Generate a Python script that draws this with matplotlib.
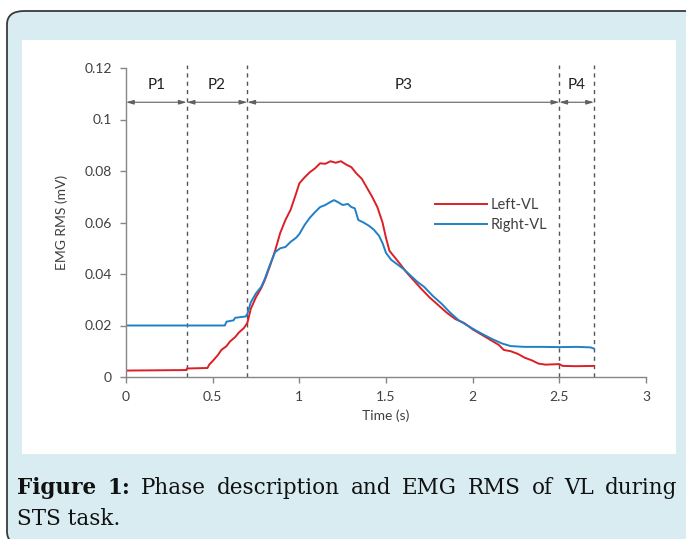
import matplotlib.pyplot as plt
from matplotlib.patches import FancyBboxPatch, Rectangle

# EMG RMS of VL
left_t = [0, 0.35, 0.351, 0.47, 0.48, 0.50, 0.53, 0.55, 0.58, 0.60, 0.63, 0.65, 0.68, 0.70,
          0.72, 0.75, 0.78, 0.80, 0.83, 0.86, 0.89, 0.92, 0.95, 0.98, 1.00, 1.03, 1.06, 1.09,
          1.12, 1.15, 1.18, 1.21, 1.24, 1.27, 1.30, 1.33, 1.36, 1.39, 1.42, 1.45, 1.48, 1.50,
          1.52, 1.55, 1.58, 1.62, 1.66, 1.70, 1.75, 1.80, 1.85, 1.90, 1.95, 2.00, 2.05, 2.10,
          2.15, 2.18, 2.22, 2.26, 2.30, 2.34, 2.38, 2.42, 2.46, 2.50, 2.52, 2.60, 2.70]
left_vl = [0.0025, 0.0027, 0.0033, 0.0035, 0.0048, 0.0062, 0.0085, 0.0105, 0.0120, 0.0138,
           0.0155, 0.0172, 0.0190, 0.0210, 0.0265, 0.0310, 0.0345, 0.0375, 0.0430, 0.0490,
           0.0560, 0.0610, 0.0650, 0.0710, 0.0752, 0.0775, 0.0795, 0.0810, 0.0830, 0.0828,
           0.0838, 0.0832, 0.0838, 0.0825, 0.0815, 0.0790, 0.0770, 0.0735, 0.0700, 0.0660,
           0.0600, 0.0540, 0.0490, 0.0465, 0.0440, 0.0405, 0.0375, 0.0345, 0.0310, 0.0280,
           0.0250, 0.0225, 0.0210, 0.0185, 0.0165, 0.0145, 0.0125, 0.0105, 0.0100, 0.0090,
           0.0075, 0.0065, 0.0052, 0.0048, 0.0049, 0.0050, 0.0043, 0.0042, 0.0043]

right_t = [0, 0.57, 0.58, 0.62, 0.63, 0.69, 0.70, 0.72, 0.75, 0.78, 0.80, 0.83, 0.86, 0.89,
           0.92, 0.95, 0.98, 1.00, 1.03, 1.06, 1.09, 1.12, 1.15, 1.18, 1.20, 1.22, 1.25, 1.28,
           1.30, 1.32, 1.34, 1.37, 1.40, 1.43, 1.46, 1.48, 1.50, 1.53, 1.56, 1.60, 1.64, 1.68,
           1.72, 1.77, 1.82, 1.87, 1.92, 1.97, 2.02, 2.07, 2.12, 2.17, 2.22, 2.30, 2.40, 2.50,
           2.60, 2.68, 2.70]
right_vl = [0.0200, 0.0200, 0.0215, 0.0220, 0.0230, 0.0235, 0.0245, 0.0290, 0.0325, 0.0350,
            0.0380, 0.0435, 0.0485, 0.0500, 0.0505, 0.0525, 0.0540, 0.0555, 0.0590, 0.0618,
            0.0640, 0.0660, 0.0668, 0.0680, 0.0687, 0.0680, 0.0668, 0.0672, 0.0660, 0.0655,
            0.0610, 0.0600, 0.0588, 0.0572, 0.0548, 0.0520, 0.0482, 0.0455, 0.0440, 0.0420,
            0.0395, 0.0370, 0.0350, 0.0315, 0.0285, 0.0250, 0.0220, 0.0200, 0.0180, 0.0162,
            0.0145, 0.0130, 0.0120, 0.0117, 0.0117, 0.0116, 0.0117, 0.0115, 0.0110]

phase_bounds = [0, 0.35, 0.70, 2.50, 2.70]
phase_names = ['P1', 'P2', 'P3', 'P4']
x_ticks = [0, 0.5, 1, 1.5, 2, 2.5, 3]
y_ticks = [0, 0.02, 0.04, 0.06, 0.08, 0.1, 0.12]

W, H = 686, 539
fig = plt.figure(figsize=(W / 100, H / 100), dpi=100)
fig.patch.set_facecolor('white')

# light blue card with rounded corner, white panel inside
card = FancyBboxPatch((7 / W, 1 - 545 / H), 700 / W, 534 / H,
                      boxstyle='round,pad=0,rounding_size=0.025',
                      transform=fig.transFigure, facecolor='#d8ecf2',
                      edgecolor='#3a3a3a', lw=1.3, zorder=-2)
fig.patches.append(card)
fig.patches.append(Rectangle((22 / W, 1 - 454 / H), 654 / W, 414 / H,
                             transform=fig.transFigure, facecolor='white',
                             edgecolor='none', zorder=-1))

tick_font = 'Lato'
grey = '#404040'
ax = fig.add_axes([126 / W, 1 - 377 / H, 520 / W, 309 / H])
ax.set_zorder(1)
ax.set_facecolor('none')

ax.plot(left_t, left_vl, color='#dc1f26', lw=1.4, label='Left-VL')
ax.plot(right_t, right_vl, color='#1f80c8', lw=1.4, label='Right-VL')

# phase boundaries and arrows
for b in phase_bounds[1:]:
    ax.plot([b, b], [0, 0.121], color='#555555', lw=1.0, ls=(0, (3, 3)), zorder=1,
            clip_on=False)
for i, name in enumerate(phase_names):
    x0, x1 = phase_bounds[i], phase_bounds[i + 1]
    ax.annotate('', xy=(x1, 0.1067), xytext=(x0, 0.1067),
                arrowprops=dict(arrowstyle='<|-|>,head_length=0.45,head_width=0.13',
                                color='#606060', lw=0.8, shrinkA=0, shrinkB=0))
    ax.text((x0 + x1) / 2, 0.1135, name, ha='center', va='center',
            fontsize=11, color='#222222', family=tick_font)

ax.set_xlim(0, 3)
ax.set_ylim(0, 0.12)
ax.set_xticks(x_ticks)
ax.set_xticklabels(['0', '0.5', '1', '1.5', '2', '2.5', '3'])
ax.set_yticks(y_ticks)
ax.set_yticklabels(['0', '0.02', '0.04', '0.06', '0.08', '0.1', '0.12'])
for s in ['top', 'right']:
    ax.spines[s].set_visible(False)
for s in ['left', 'bottom']:
    ax.spines[s].set_color('#868686')
    ax.spines[s].set_linewidth(1.0)
ax.tick_params(direction='out', length=4, width=1.0, color='#868686',
               labelcolor=grey, labelsize=10, pad=6)
for lab in ax.get_xticklabels() + ax.get_yticklabels():
    lab.set_family(tick_font)

ax.set_xlabel('Time (s)', fontsize=10, color=grey, family=tick_font, labelpad=5)
ax.set_ylabel('EMG RMS (mV)', fontsize=10, color=grey, family=tick_font, labelpad=12)

leg = ax.legend(loc='center left', bbox_to_anchor=(0.594, 0.524), frameon=False,
                borderpad=0, borderaxespad=0, handlelength=3.6, handletextpad=0.25,
                labelspacing=0.4, prop={'family': tick_font, 'size': 10.5})
for t in leg.get_texts():
    t.set_color(grey)

# caption, first line justified across the panel width
cap_font = 'DejaVu Serif'
cap_size = 15.5
words = [('Figure', 'bold'), ('1:', 'bold'), ('Phase', 'normal'), ('description', 'normal'),
         ('and', 'normal'), ('EMG', 'normal'), ('RMS', 'normal'), ('of', 'normal'),
         ('VL', 'normal'), ('during', 'normal')]
left_px, right_px = 17, 677
line1_y = 1 - 488 / H
renderer = fig.canvas.get_renderer()
arts = []
for w, wt in words:
    t = fig.text(0, line1_y, w, fontsize=cap_size, weight=wt, family=cap_font,
                 color='#111111', va='center', ha='left')
    arts.append(t)
widths = [a.get_window_extent(renderer).width for a in arts]
gap = max(4, (right_px - left_px - sum(widths)) / (len(words) - 1))
x = left_px
for a, wd in zip(arts, widths):
    a.set_x(x / W)
    x += wd + gap
fig.text(left_px / W, 1 - 519 / H, 'STS task.', fontsize=cap_size, family=cap_font,
         color='#111111', va='center', ha='left')

fig.savefig('out.png', dpi=100)
